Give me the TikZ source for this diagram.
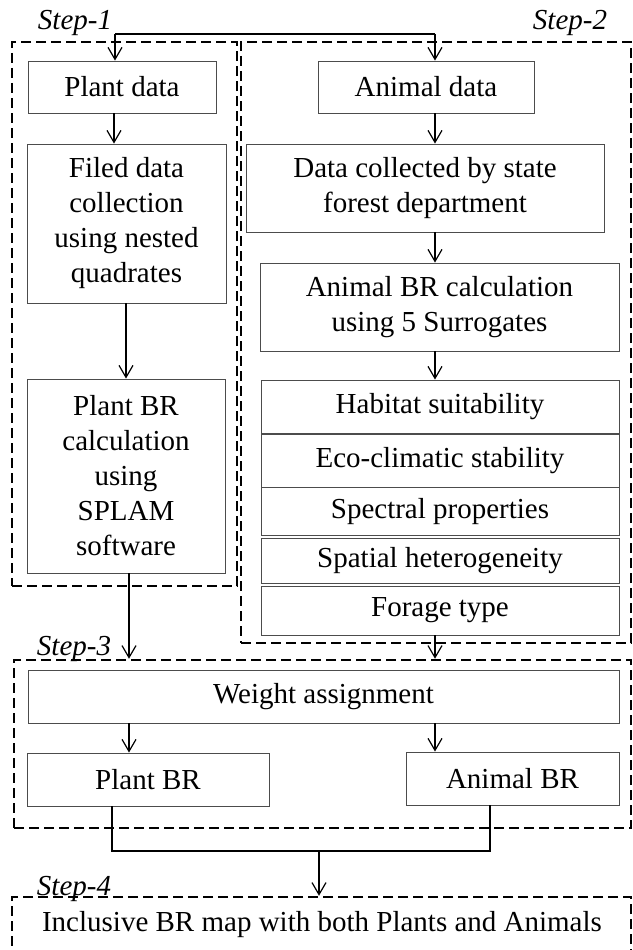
\documentclass[tikz,border=0pt]{standalone}
\usepackage{fontspec}
\setmainfont{Liberation Serif}
\usetikzlibrary{arrows.meta}
\begin{document}
\begin{tikzpicture}[x=1pt,y=-1pt,
 box/.style={draw=black!70, line width=0.9pt, inner sep=0pt, align=center, font=\fontsize{29}{35}\selectfont, text=black},
 frame/.style={draw=black, line width=2.5pt, dash pattern=on 10pt off 5pt, inner sep=0pt},
 lbl/.style={font=\fontsize{29}{35}\selectfont\itshape, inner sep=0pt, text=black},
 plain/.style={font=\fontsize{29}{35}\selectfont, inner sep=0pt, text=black},
 arr/.style={line width=1.2pt, -{Straight Barb[length=12pt,width=14pt,line width=1.2pt]}},
 ln/.style={line width=1.2pt}]
\path[use as bounding box] (0,0) rectangle (632,950);
\clip (0,0) rectangle (632,950);
\fill[white] (0,0) rectangle (632,950);

% frames
\node[frame, minimum width=225pt, minimum height=544pt] (st1) at (124.5,314) {};
\node[frame, minimum width=390pt, minimum height=601pt] (st2) at (436,342.5) {};
\node[frame, minimum width=617pt, minimum height=168pt] (st3) at (322.5,744) {};
\node[frame, minimum width=619pt, minimum height=88pt] (st4) at (321.5,941) {};

% labels
\node[lbl] (l1) at (75,23) {Step-1};
\node[lbl] (l2) at (570,23) {Step-2};
\node[lbl] (l3) at (74,649) {Step-3};
\node[lbl] (l4) at (74,889) {Step-4};

% step 1
\node[box, minimum width=188pt, minimum height=52pt] (pd) at (122,87) {Plant data};
\node[box, minimum width=199pt, minimum height=159pt] (fd) at (126.5,223.5) {Filed data\\collection\\using nested\\quadrates};
\node[box, minimum width=198pt, minimum height=194pt] (pbc) at (126,476) {Plant BR\\calculation\\using\\SPLAM\\software};

% step 2
\node[box, minimum width=216pt, minimum height=52pt] (ad) at (426,87) {Animal data};
\node[box, minimum width=358pt, minimum height=88pt] (dc) at (425,188) {Data collected by state\\forest department};
\node[box, minimum width=359pt, minimum height=88pt] (abc) at (439.5,307) {Animal BR calculation\\using 5 Surrogates};
\node[box, minimum width=358pt, minimum height=53pt] (s1) at (440,406.5) {Habitat suitability};
\node[box, minimum width=358pt, minimum height=52.5pt] (s2) at (440,460.75) {Eco-climatic stability};
\node[box, minimum width=358pt, minimum height=47.5pt] (s3) at (440,511.25) {Spectral properties};
\node[box, minimum width=358pt, minimum height=45pt] (s4) at (440,560.5) {Spatial heterogeneity};
\node[box, minimum width=358pt, minimum height=49pt] (s5) at (440,610.5) {Forage type};

% step 3
\node[box, minimum width=591pt, minimum height=53pt] (wa) at (323.5,696.5) {Weight assignment};
\node[box, minimum width=242pt, minimum height=53pt] (pbr) at (148,779.5) {Plant BR};
\node[box, minimum width=213pt, minimum height=53pt] (abr) at (512.5,778.5) {Animal BR};

% step 4
\node[plain] (inc) at (322,925) {Inclusive BR map with both Plants and Animals};

% connectors
\coordinate (tl) at (115,34);
\coordinate (tr) at (435,34);
\coordinate (xa) at (114,0);
\coordinate (xb) at (126,0);
\coordinate (xc) at (129,0);
\coordinate (xd) at (435,0);
\coordinate (bl) at (112,851);
\coordinate (br) at (490,851);
\coordinate (jn) at (319,851);

\draw[ln] (tl) -- (tr);
\draw[arr] (tl) -- (tl |- pd.north);
\draw[arr] (tr) -- (tr |- ad.north);
\draw[arr] (xa |- pd.south) -- (xa |- fd.north);
\draw[arr] (xb |- fd.south) -- (xb |- pbc.north);
\draw[arr] (xc |- pbc.south) -- (xc |- st3.north);
\draw[arr] (xd |- ad.south) -- (xd |- dc.north);
\draw[arr] (xd |- dc.south) -- (xd |- abc.north);
\draw[arr] (xd |- abc.south) -- (xd |- s1.north);
\draw[arr] (xd |- s5.south) -- (xd |- st3.north);
\draw[arr] (xc |- wa.south) -- (xc |- pbr.north);
\draw[arr] (xd |- wa.south) -- (xd |- abr.north);
\draw[ln] (bl |- pbr.south) -- (bl) -- (br) -- (br |- abr.south);
\draw[arr] (jn) -- (jn |- st4.north);
\end{tikzpicture}
\end{document}
